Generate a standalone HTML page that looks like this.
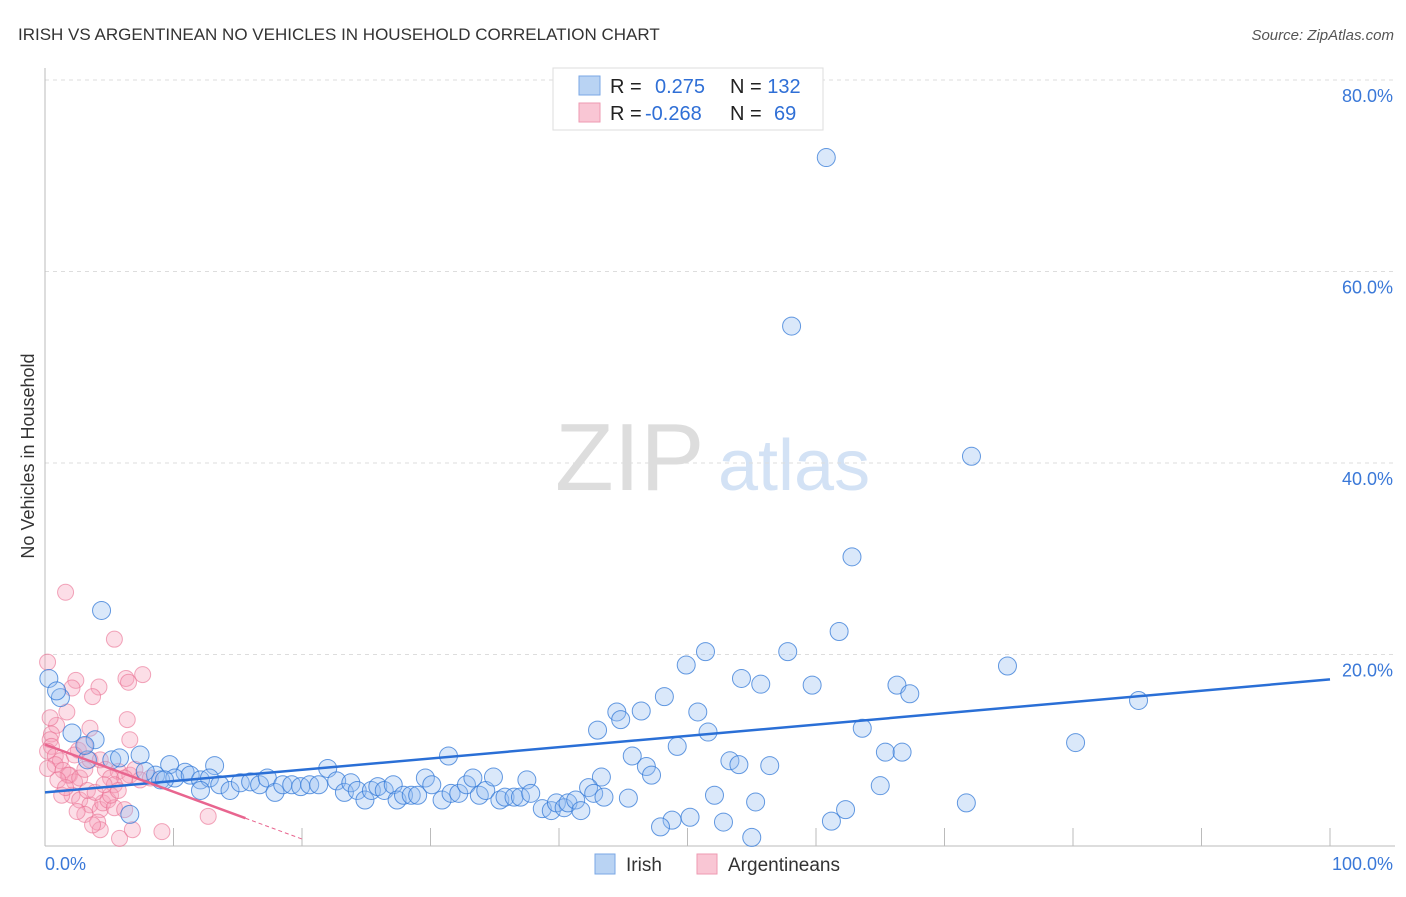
<!DOCTYPE html>
<html><head><meta charset="utf-8"><style>
body{margin:0;background:#fff;font-family:"Liberation Sans",sans-serif}
svg text{font-family:"Liberation Sans",sans-serif}
</style></head><body>
<svg id="c" width="1406" height="892" xmlns="http://www.w3.org/2000/svg">
<text x="18" y="40" font-size="17" fill="#333">IRISH VS ARGENTINEAN NO VEHICLES IN HOUSEHOLD CORRELATION CHART</text>
<text x="1394" y="40" font-size="15" fill="#555" font-style="italic" text-anchor="end">Source: ZipAtlas.com</text>
<text x="34" y="456" font-size="18" fill="#333" text-anchor="middle" transform="rotate(-90 34 456)">No Vehicles in Household</text>
<text x="555" y="490" font-size="96" fill="#ddd" font-family="Liberation Serif">ZIP</text>
<text x="718" y="490" font-size="72" fill="#d3e2f5">atlas</text>
<g id="grid"></g><g id="pts"></g><g id="lines"></g>
<g>
<rect x="553" y="68" width="270" height="62" fill="#fff" stroke="#ddd"/>
<rect x="579" y="76" width="21" height="19" fill="#b9d3f3" stroke="#7aa7e4"/>
<rect x="579" y="103" width="21" height="19" fill="#f9c6d4" stroke="#ee9ab2"/>
<text x="610" y="93" font-size="20" fill="#222">R = <tspan fill="#2f6fd6" x="655">0.275</tspan><tspan x="730" fill="#222">N = </tspan><tspan fill="#2f6fd6">132</tspan></text>
<text x="610" y="120" font-size="20" fill="#222">R = <tspan fill="#2f6fd6" x="645">-0.268</tspan><tspan x="730" fill="#222">N = </tspan><tspan fill="#2f6fd6" x="774">69</tspan></text>
</g>
<g>
<rect x="595" y="854" width="20" height="20" fill="#b9d3f3" stroke="#7aa7e4"/>
<text x="626" y="871" font-size="19" fill="#333">Irish</text>
<rect x="697" y="854" width="20" height="20" fill="#f9c6d4" stroke="#ee9ab2"/>
<text x="728" y="871" font-size="19" fill="#333">Argentineans</text>
</g>
</svg>
<script>
const yTicks=[20,40,60,80];
const yTickLabels=["20.0%","40.0%","60.0%","80.0%"];
const xTickLabels=["0.0%","100.0%"];
const irishX=[60.8,58.1,72.1,62.8,4.4,61.8,51.4,57.8,49.9,74.9,54.2,55.7,59.7,66.3,67.3,48.2,85.1,0.3,1.2,0.9,44.5,46.4,44.8,50.8,43.0,51.6,63.6,49.2,80.2,65.4,66.7,31.4,45.7,53.3,54.0,56.4,46.8,47.2,43.3,65.0,52.1,45.4,55.3,71.7,62.3,50.2,48.8,47.9,52.8,61.2,55.0,3.9,3.3,7.4,5.2,5.8,3.1,2.1,9.7,13.2,10.9,
8.6,9.0,10.1,11.3,12.1,12.8,13.6,14.4,15.2,16.0,16.7,17.3,17.9,18.5,19.2,19.9,20.6,21.3,22.0,22.7,23.3,23.8,24.3,24.9,25.4,25.9,26.4,27.1,27.4,27.9,28.5,29.0,29.6,30.1,30.9,31.6,32.2,32.8,33.3,33.8,34.3,34.9,35.4,35.8,36.5,37.0,37.5,37.8,38.7,39.4,39.8,40.4,40.7,41.3,41.7,42.3,42.7,43.5,6.6,7.8,9.3,12.1];
const irishY=[71.9,54.3,40.7,30.2,24.6,22.4,20.3,20.3,18.9,18.8,17.5,16.9,16.8,16.8,15.9,15.6,15.2,17.5,15.5,16.2,14.0,14.1,13.2,14.0,12.1,11.9,12.3,10.4,10.8,9.8,9.8,9.4,9.4,8.9,8.5,8.4,8.3,7.4,7.2,6.3,5.3,5.0,4.6,4.5,3.8,3.0,2.7,2.0,2.5,2.6,0.9,11.1,9.0,9.5,9.0,9.2,10.5,11.8,8.5,8.4,7.7,
7.4,6.9,7.1,7.4,6.9,7.1,6.4,5.8,6.6,6.7,6.4,7.1,5.6,6.4,6.4,6.2,6.4,6.4,8.1,6.8,5.6,6.6,5.8,4.8,5.8,6.2,5.8,6.4,4.8,5.3,5.3,5.3,7.1,6.4,4.8,5.5,5.5,6.4,7.1,5.3,5.8,7.2,4.8,5.1,5.1,5.1,6.9,5.5,3.9,3.7,4.5,4.0,4.5,4.8,3.7,6.1,5.5,5.1,3.3,7.8,6.9,5.8,7.8];
const argX=[1.6,5.4,0.2,4.2,6.3,6.5,7.6,2.4,2.1,3.7,1.7,0.9,3.5,6.4,0.5,0.4,0.5,0.2,0.8,1.2,0.8,0.2,1.4,1.9,2.3,1.8,2.7,3.1,3.5,2.6,3.1,4.3,4.7,5.7,5.1,6.6,7.0,6.2,5.4,7.4,8.2,2.1,2.7,1.3,3.5,3.1,4.3,4.5,4.9,5.4,6.2,2.5,4.1,4.3,6.8,9.1,5.8,3.7,12.7,3.3,3.9,5.1,5.7,1.0,1.6,4.6,0.4,6.6,2.3];
const argY=[26.5,21.6,19.2,16.6,17.5,17.1,17.9,17.3,16.5,15.6,14.0,12.6,12.3,13.2,11.7,11.1,10.4,9.9,9.4,8.9,8.5,8.1,7.9,7.4,6.7,7.4,7.1,8.0,9.0,10.0,10.5,9.0,8.0,7.8,7.1,7.4,8.0,7.1,6.4,6.9,7.1,5.3,4.8,5.3,4.3,3.3,3.8,4.5,4.8,4.0,3.8,3.6,2.5,1.7,1.7,1.5,0.8,2.2,3.1,5.8,5.6,5.3,5.8,6.9,6.1,6.4,13.4,11.1,9.5];
const irishFit=[5.6,17.4];
const argFit=[10.6,2.9];
const X=v=>45+v*12.85, Y=v=>846-v*9.575;
const ns="http://www.w3.org/2000/svg";
function mk(t,a,p){const e=document.createElementNS(ns,t);for(const k in a)e.setAttribute(k,a[k]);p.appendChild(e);return e;}
const g=document.getElementById('grid');
yTicks.forEach((t,i)=>{
 const l=mk('line',{x1:45,x2:1395,y1:Y(t),y2:Y(t),stroke:'#ddd','stroke-dasharray':'4,4'},g);
 
 
 const tx=mk('text',{x:1393,y:Y(t)+22,'font-size':18,fill:'#3a78d8','text-anchor':'end'},g);
 tx.textContent=yTickLabels[i];
 
 
});
const ax=mk('line',{x1:45,x2:45,y1:68,y2:846,stroke:'#bbb'},g);


const bx=mk('line',{x1:45,x2:1395,y1:846,y2:846,stroke:'#bbb'},g);


for(let k=1;k<=10;k++){const t=mk('line',{x1:X(k*10),x2:X(k*10),y1:828,y2:846,stroke:'#bbb'},g);
 
 }
[[0,'start',45],[100,'end',1393]].forEach((d,i)=>{const t=mk('text',{x:d[2],y:870,'font-size':18,fill:'#3a78d8','text-anchor':d[1]},g);t.textContent=xTickLabels[i];
 
 });
const P=document.getElementById('pts');
argX.forEach((x,i)=>{const c=mk('circle',{cx:X(x),cy:Y(argY[i]),r:8,fill:'rgba(246,160,185,0.35)',stroke:'rgba(234,110,145,0.6)'},P);
 
 });
irishX.forEach((x,i)=>{const c=mk('circle',{cx:X(x),cy:Y(irishY[i]),r:9,fill:'rgba(150,190,240,0.35)',stroke:'rgba(50,120,215,0.75)'},P);
 
 });
const L=document.getElementById('lines');
const bl=mk('line',{x1:X(0),y1:Y(irishFit[0]),x2:X(100),y2:Y(irishFit[1]),stroke:'#2a6fd6','stroke-width':2.5},L);


const slope=(argFit[1]-argFit[0])/15.6;
const pl=mk('line',{x1:X(0),y1:Y(argFit[0]),x2:X(15.6),y2:Y(argFit[1]),stroke:'#e8658f','stroke-width':2.5},L);


const pd=mk('line',{x1:X(15.6),y1:Y(argFit[1]),x2:X(20),y2:Y(argFit[0]+slope*20),stroke:'#e8658f','stroke-width':1,'stroke-dasharray':'4,3'},L);


</script>
</body></html>
